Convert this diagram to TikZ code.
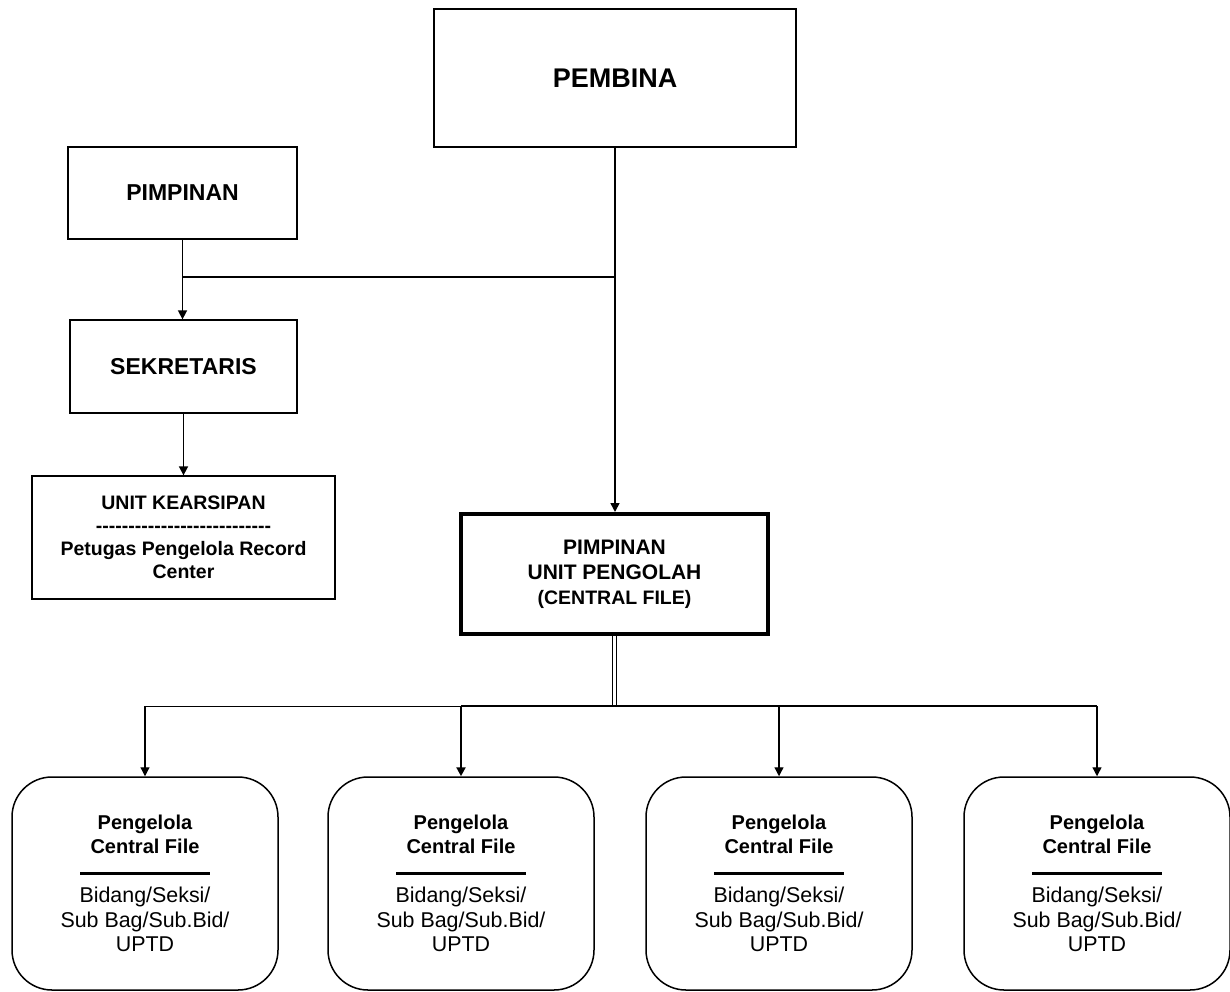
\documentclass[tikz,border=0pt]{standalone}
\usepackage{fontspec}
\setmainfont{Liberation Sans}
\usetikzlibrary{arrows.meta}
\tikzset{
	box/.style={draw, line width=1.3pt, align=center, inner sep=0pt},
	cfbox/.style={draw, rounded corners=40pt, line width=1.5pt, minimum width=266pt,
		minimum height=213pt, align=center, inner sep=0pt,
		font=\fontsize{21.4}{24.5}\selectfont},
	link/.style={line width=1.6pt},
	arr/.style={link, -{Triangle[length=9pt, width=9pt]}},
}
\newcommand{\dashrow}{\foreach \i in {1,...,27}{\kern0pt-}}
\newcommand{\cftext}{\textbf{\fontsize{20}{24.5}\selectfont Pengelola}\\
	\textbf{\fontsize{20}{24.5}\selectfont Central File}\\
	\rule[3pt]{130pt}{3pt}\\
	Bidang/Seksi/\\Sub Bag/Sub.Bid/\\UPTD}
\begin{document}
\begin{tikzpicture}[x=1pt, y=-1pt]
		\useasboundingbox (0,0) rectangle (1230,992);
		% upper part
		\node[box, minimum width=362pt, minimum height=138pt,
			font=\bfseries\fontsize{27}{32}\selectfont] (pembina) at (615,78) {PEMBINA};
		\node[box, minimum width=229pt, minimum height=92pt,
			font=\bfseries\fontsize{23}{28}\selectfont] (pimpinan) at (182.5,193) {PIMPINAN};
		\node[box, minimum width=227pt, minimum height=93pt,
			font=\bfseries\fontsize{23}{28}\selectfont] (sekretaris) at (183.5,366.5) {SEKRETARIS};
		\node[box, minimum width=303pt, minimum height=123pt,
			font=\bfseries\fontsize{19.5}{23}\selectfont] (kearsipan) at (183.5,537.5)
			{UNIT KEARSIPAN\\\dashrow\\Petugas Pengelola Record\\Center};
		\node[box, line width=4pt, minimum width=307pt, minimum height=120pt,
			font=\bfseries\fontsize{21}{25}\selectfont] (pengolah) at (614.5,574)
			{PIMPINAN\\UNIT PENGOLAH\\{\fontsize{19.5}{25}\selectfont (CENTRAL FILE)}};
		\coordinate (jn) at (615,277);
		\coordinate (split) at (614.5,706);
		
		\draw[arr] (pimpinan.south) -- (pimpinan.south |- sekretaris.north);
		\draw[link] (pimpinan.south |- jn) -- (jn);
		\draw[arr] (pembina.south) -- (pembina.south |- pengolah.north);
		\draw[arr] (sekretaris.south) -- (sekretaris.south |- kearsipan.north);
		
		% central files
		\node[cfbox] (cf1) at (145,883.5) {\cftext};
		\node[cfbox] (cf2) at (461,883.5) {\cftext};
		\node[cfbox] (cf3) at (779,883.5) {\cftext};
		\node[cfbox] (cf4) at (1097,883.5) {\cftext};
		
		\draw[line width=1.3pt, double, double distance=2.5pt] (pengolah.south) -- (split);
		\draw[line width=1pt] (split -| cf1) -- (split -| cf2);
		\draw[line width=2.2pt] (split -| cf2) -- (split);
		\draw[link] (split) -- (split -| cf4);
		\draw[arr, line width=1.2pt] (split -| cf1) -- (cf1.north);
		\draw[arr, line width=2.2pt] (split -| cf2) -- (cf2.north);
		\draw[arr, line width=1.3pt] (split -| cf3) -- (cf3.north);
		\draw[arr, line width=1.3pt] (split -| cf4) -- (cf4.north);
	\end{tikzpicture}
\end{document}
